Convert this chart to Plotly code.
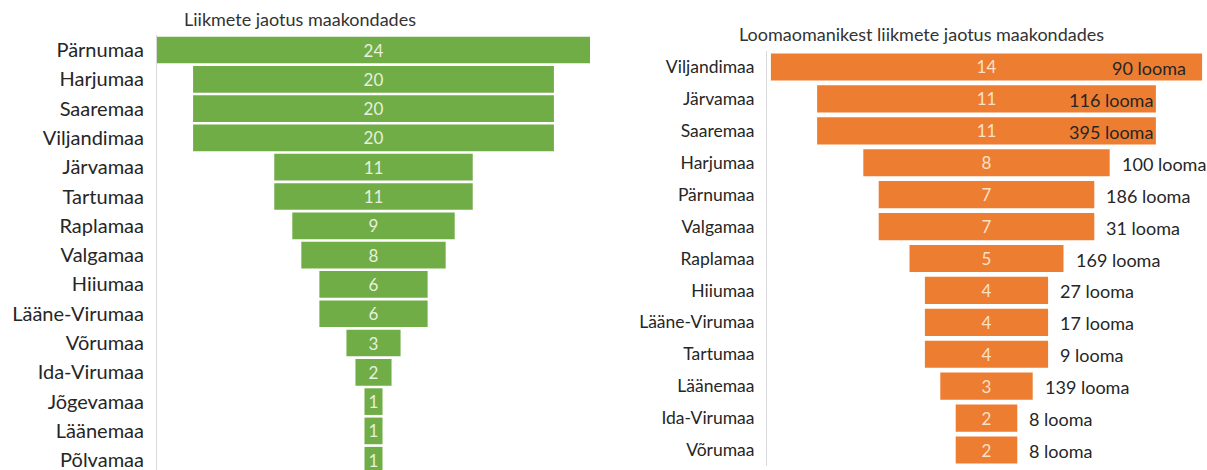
import plotly.graph_objects as go

# ---- data ----
left_title = "Liikmete jaotus maakondades"
left_counties = ["Pärnumaa", "Harjumaa", "Saaremaa", "Viljandimaa", "Järvamaa", "Tartumaa",
                 "Raplamaa", "Valgamaa", "Hiiumaa", "Lääne-Virumaa", "Võrumaa", "Ida-Virumaa",
                 "Jõgevamaa", "Läänemaa", "Põlvamaa"]
left_members = [24, 20, 20, 20, 11, 11, 9, 8, 6, 6, 3, 2, 1, 1, 1]

right_title = "Loomaomanikest liikmete jaotus maakondades"
right_counties = ["Viljandimaa", "Järvamaa", "Saaremaa", "Harjumaa", "Pärnumaa", "Valgamaa",
                  "Raplamaa", "Hiiumaa", "Lääne-Virumaa", "Tartumaa", "Läänemaa", "Ida-Virumaa",
                  "Võrumaa"]
right_owners = [14, 11, 11, 8, 7, 7, 5, 4, 4, 4, 3, 2, 2]
right_animals = [90, 116, 395, 100, 186, 31, 169, 27, 17, 9, 139, 8, 8]
animal_unit = "looma"

# ---- styling ----
FONT = "Lato, 'Open Sans', sans-serif"
W, H = 1207, 470
GREEN = "#70ad47"
ORANGE = "#ed7d31"
TEXT = "#262626"

fig = go.Figure()

fig.add_trace(go.Funnel(
    y=left_counties, x=left_members,
    xaxis="x", yaxis="y",
    width=0.91,
    marker=dict(color=GREEN, line=dict(width=0)),
    connector=dict(visible=False),
    textinfo="value", textposition="inside", insidetextanchor="middle",
    constraintext="none",
    textfont=dict(family=FONT, size=17, color="#e6f0dc"),
    hoverinfo="y+x",
))

fig.add_trace(go.Funnel(
    y=right_counties, x=right_owners,
    xaxis="x2", yaxis="y2",
    width=0.85,
    marker=dict(color=ORANGE, line=dict(width=0)),
    connector=dict(visible=False),
    textinfo="value", textposition="inside", insidetextanchor="middle",
    constraintext="none",
    textfont=dict(family=FONT, size=17, color="#fbe0c8"),
    hoverinfo="y+x",
))

# animal-count labels next to (or inside the end of) the orange bars
max_owner = max(right_owners)
for county, owners, animals in zip(right_counties, right_owners, right_animals):
    inside = owners > 8
    fig.add_annotation(
        x=owners / 2, y=county, xref="x2", yref="y2",
        text=f"{animals} {animal_unit}", showarrow=False,
        xanchor="right" if inside else "left",
        xshift=(-14 if owners == max_owner else -1) if inside else 10,
        yshift=-1,
        font=dict(family=FONT, size=18, color=TEXT),
    )

# chart titles
fig.add_annotation(x=300 / W, y=1 - 19 / H, xref="paper", yref="paper",
                   text=left_title, showarrow=False, xanchor="center", yanchor="middle",
                   font=dict(family=FONT, size=18, color="#333333"))
fig.add_annotation(x=921 / W, y=1 - 34 / H, xref="paper", yref="paper",
                   text=right_title, showarrow=False, xanchor="center", yanchor="middle",
                   font=dict(family=FONT, size=18, color="#333333"))

n_left = len(left_counties)
n_right = len(right_counties)
left_top = 35.35
left_pitch = (H - left_top) / (n_left - 0.5 + 0.5 - 0.166)
right_top, right_bottom = 51, 466

fig.update_layout(
    width=W, height=H,
    margin=dict(l=0, r=0, t=0, b=0),
    paper_bgcolor="white", plot_bgcolor="white",
    showlegend=False,
    font=dict(family=FONT, color=TEXT),
    xaxis=dict(domain=[157 / W, 590 / W], range=[-12, 12], visible=False, fixedrange=True),
    yaxis=dict(domain=[0, 1 - left_top / H], range=[14.334, -0.5], anchor="x",
               showline=True, linecolor="#d9d9d9", linewidth=1, showgrid=False,
               ticks="", ticklabelstandoff=8, zeroline=False,
               tickfont=dict(family=FONT, size=20, color=TEXT)),
    xaxis2=dict(domain=[767 / W, 1206 / W], range=[-7.127, 7.127], visible=False,
                anchor="y2", fixedrange=True),
    yaxis2=dict(domain=[(H - right_bottom) / H, 1 - right_top / H], range=[n_right - 0.5, -0.5],
                anchor="x2", showline=True, linecolor="#d9d9d9", linewidth=1, showgrid=False,
                ticks="", ticklabelstandoff=8, zeroline=False,
                tickfont=dict(family=FONT, size=17.5, color=TEXT)),
)

fig.write_html("out.html")
